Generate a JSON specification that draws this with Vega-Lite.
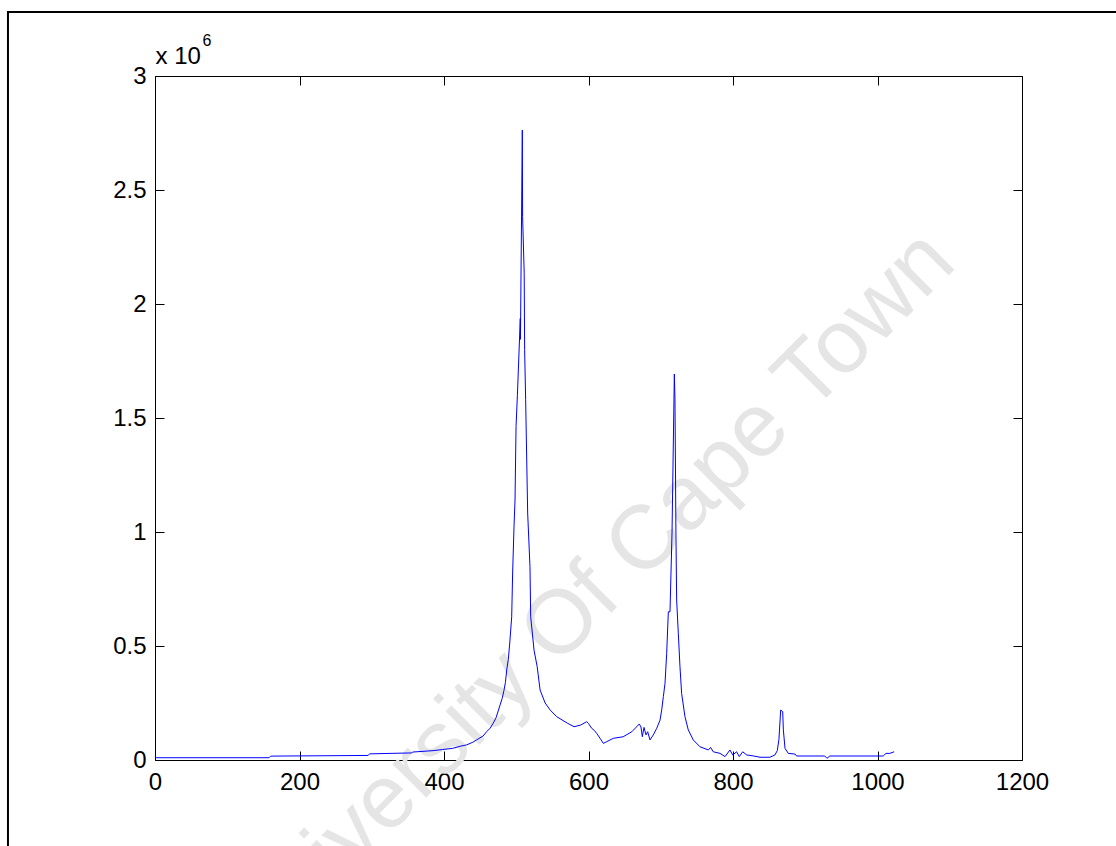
{
  "$schema": "https://vega.github.io/schema/vega-lite/v6.json",
  "width": 867,
  "height": 684,
  "autosize": "none",
  "padding": {"left": 155, "top": 76, "right": 94, "bottom": 86},
  "background": "white",
  "config": {
    "view": {"stroke": null},
    "axis": {
      "domainColor": "black", "domainWidth": 1, "tickColor": "black", "tickWidth": 1,
      "labelColor": "black", "labelFont": "Liberation Sans", "labelFontSize": 24,
      "titleColor": "black", "titleFont": "Liberation Sans", "titleFontWeight": "normal",
      "grid": false, "zindex": 1
    }
  },
  "resolve": {"axis": {"x": "independent", "y": "independent"}},
  "layer": [
    {
      "data": {"values": [{}]},
      "mark": {"type": "text", "text": "University Of Cape Town", "angle": -45, "fontSize": 90, "font": "Liberation Sans", "color": "#e5e5e5", "align": "center", "baseline": "alphabetic"},
      "encoding": {
        "x": {"datum": 628, "type": "quantitative", "axis": null},
        "y": {"datum": 635000, "type": "quantitative", "axis": null}
      }
    },
    {
      "data": {"values": [
        {"x": 0, "y": 17000}, {"x": 2, "y": 10000}, {"x": 158, "y": 10000}, {"x": 160, "y": 17000},
        {"x": 295, "y": 20000}, {"x": 297, "y": 27000}, {"x": 355, "y": 31000}, {"x": 357, "y": 35000},
        {"x": 385, "y": 41000}, {"x": 398, "y": 46000}, {"x": 412, "y": 51000}, {"x": 422, "y": 60000},
        {"x": 431, "y": 66000}, {"x": 440, "y": 78000}, {"x": 445, "y": 88000}, {"x": 454, "y": 105000},
        {"x": 459, "y": 124000}, {"x": 464, "y": 140000}, {"x": 468, "y": 161000}, {"x": 472, "y": 185000},
        {"x": 475, "y": 215000}, {"x": 478, "y": 245000}, {"x": 480.5, "y": 270000}, {"x": 483, "y": 305000},
        {"x": 485, "y": 340000}, {"x": 487, "y": 400000}, {"x": 489, "y": 440000}, {"x": 491, "y": 513000},
        {"x": 493.7, "y": 628000}, {"x": 495, "y": 820000}, {"x": 496.9, "y": 1023000}, {"x": 498.3, "y": 1140000},
        {"x": 499.7, "y": 1462000}, {"x": 501.6, "y": 1600000}, {"x": 505.6, "y": 1937000}, {"x": 505.8, "y": 1845000},
        {"x": 508.4, "y": 2763000}, {"x": 508.8, "y": 2383000}, {"x": 511, "y": 2135000}, {"x": 511.6, "y": 1800000},
        {"x": 513, "y": 1580000}, {"x": 515.8, "y": 1083000}, {"x": 519, "y": 848000}, {"x": 520, "y": 628000},
        {"x": 524.6, "y": 482000}, {"x": 529, "y": 409000}, {"x": 533, "y": 307000}, {"x": 540, "y": 250000},
        {"x": 547, "y": 219000}, {"x": 556, "y": 190000}, {"x": 571, "y": 161000}, {"x": 580, "y": 146000},
        {"x": 589, "y": 153000}, {"x": 597.5, "y": 168000}, {"x": 600, "y": 160000}, {"x": 604.4, "y": 139000},
        {"x": 608, "y": 130000}, {"x": 611.3, "y": 117000}, {"x": 616, "y": 95000}, {"x": 620.5, "y": 73000},
        {"x": 625, "y": 80000}, {"x": 634.3, "y": 95000}, {"x": 648, "y": 102000}, {"x": 660, "y": 124000},
        {"x": 670.3, "y": 158000}, {"x": 672.6, "y": 145000}, {"x": 674.5, "y": 102000}, {"x": 676.8, "y": 143000},
        {"x": 679.6, "y": 110000}, {"x": 681.9, "y": 124000}, {"x": 685.1, "y": 88000}, {"x": 689.7, "y": 110000},
        {"x": 694.4, "y": 139000}, {"x": 699, "y": 175000}, {"x": 701.3, "y": 219000}, {"x": 703.6, "y": 278000},
        {"x": 705.9, "y": 336000}, {"x": 708.2, "y": 468000}, {"x": 710.5, "y": 650000}, {"x": 712.8, "y": 650000},
        {"x": 715.6, "y": 996000}, {"x": 718.8, "y": 1693000}, {"x": 719.7, "y": 1580000}, {"x": 721, "y": 996000},
        {"x": 722, "y": 702000}, {"x": 724.3, "y": 556000}, {"x": 726.6, "y": 409000}, {"x": 728.9, "y": 292000},
        {"x": 733.5, "y": 190000}, {"x": 738.1, "y": 132000}, {"x": 745, "y": 88000}, {"x": 754.3, "y": 58000},
        {"x": 765.8, "y": 44000}, {"x": 769, "y": 55000}, {"x": 772.7, "y": 36000}, {"x": 782, "y": 29000},
        {"x": 789, "y": 15000}, {"x": 795.8, "y": 44000}, {"x": 799.6, "y": 22000}, {"x": 805, "y": 36000},
        {"x": 808.7, "y": 15000}, {"x": 813.4, "y": 36000}, {"x": 819, "y": 22000}, {"x": 828, "y": 18000},
        {"x": 837.4, "y": 12000}, {"x": 851, "y": 12000}, {"x": 858, "y": 22000}, {"x": 861.3, "y": 41000},
        {"x": 863.6, "y": 91000}, {"x": 866, "y": 219000}, {"x": 868.8, "y": 212000}, {"x": 869.7, "y": 132000},
        {"x": 872, "y": 51000}, {"x": 876.6, "y": 29000}, {"x": 885.8, "y": 26000}, {"x": 888, "y": 17500},
        {"x": 927, "y": 17500}, {"x": 930, "y": 7500}, {"x": 934, "y": 17500}, {"x": 1008, "y": 17500},
        {"x": 1011.8, "y": 29000}, {"x": 1017, "y": 29000}, {"x": 1023, "y": 36000}
      ]},
      "mark": {"type": "line", "color": "#0000ff", "strokeWidth": 1},
      "encoding": {
        "x": {
          "field": "x", "type": "quantitative",
          "scale": {"domain": [0, 1200], "nice": false, "zero": false},
          "axis": {"orient": "bottom", "values": [0, 200, 400, 600, 800, 1000, 1200], "format": "d", "tickSize": -9, "labelPadding": 19, "title": null, "labelFlush": false, "labelOverlap": false}
        },
        "y": {
          "field": "y", "type": "quantitative",
          "scale": {"domain": [0, 3000000], "nice": false, "zero": false},
          "axis": {"orient": "left", "values": [0, 500000, 1000000, 1500000, 2000000, 2500000, 3000000], "labelExpr": "'' + (datum.value / 1000000)", "tickSize": -9, "labelPadding": 18, "labelFlush": false, "labelOverlap": false,
            "title": "x 10", "titleFontSize": 24, "titleAngle": 0, "titleAlign": "left", "titleBaseline": "alphabetic", "titleX": 0, "titleY": -13}
        }
      }
    },
    {
      "data": {"values": [{}]},
      "mark": {"type": "rect", "filled": false, "stroke": "black", "strokeWidth": 2, "clip": false},
      "encoding": {
        "x": {"datum": -203.5, "type": "quantitative",
          "axis": {"orient": "top", "values": [0, 200, 400, 600, 800, 1000, 1200], "labels": false, "tickSize": -9,
            "title": "6", "titleFontSize": 16, "titleAngle": 0, "titleAlign": "left", "titleBaseline": "alphabetic", "titleX": 47, "titleY": -31}},
        "x2": {"datum": 1500},
        "y": {"datum": 3281000, "type": "quantitative",
          "axis": {"orient": "right", "values": [0, 500000, 1000000, 1500000, 2000000, 2500000, 3000000], "labels": false, "tickSize": -9, "title": null}},
        "y2": {"datum": -600000}
      }
    }
  ]
}
